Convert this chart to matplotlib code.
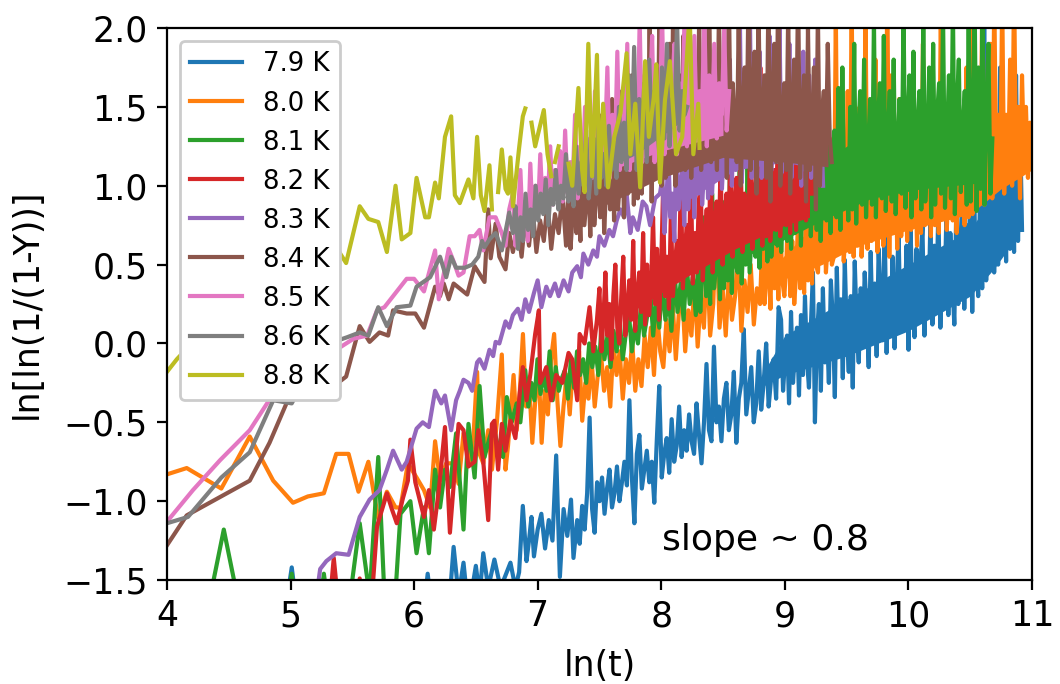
import numpy as np
import matplotlib
matplotlib.use("Agg")
import matplotlib.pyplot as plt

nan = np.nan

labels = ["7.9 K", "8.0 K", "8.1 K", "8.2 K", "8.3 K", "8.4 K", "8.5 K", "8.6 K", "8.8 K"]
colors = ["#1f77b4", "#ff7f0e", "#2ca02c", "#d62728", "#9467bd",
          "#8c564b", "#e377c2", "#7f7f7f", "#bcbd22"]

# ---- 7.9 K ------------------------------------------------------------
head_79 = [(4.90, -2.0), (5.01, -1.42), (5.10, -2.0), (6.05, -1.9), (6.11, -1.46), (6.16, -1.8),
           (6.28, -1.7), (6.32, -1.29), (6.36, -1.6), (6.40, -1.39), (6.44, -1.7), (6.50, -1.41),
           (6.53, -1.6), (6.56, -1.33), (6.60, -1.55), (6.65, -1.37), (6.70, -1.55), (6.74, -1.47),
           (6.78, -1.39), (6.82, -1.55), (6.85, -1.45), (6.88, -1.03), (6.91, -1.38), (6.93, -1.25),
           (6.95, -1.10), (6.97, -1.35), (7.00, -1.18), (7.03, -1.08), (7.06, -1.30), (7.09, -1.12),
           (7.12, -1.25), (7.15, -0.71), (7.18, -1.48), (7.21, -1.05), (7.24, -1.22), (7.27, -0.99),
           (7.29, -1.36)]
mid_79_span = (7.32, 8.95)
mid_79 = [-1.12, -1.27, -1.03, -1.18, -0.95, -0.47, -1.05, -1.20, -0.88, -1.00,
          -0.85, -1.08, -0.92, -0.80, -1.04, -0.95, -0.78, -1.00, -0.88, -0.75,
          -0.90, -0.36, -0.85, -1.14, -0.70, -0.58, -0.92, -0.80, -0.68, -0.88,
          -0.75, -1.01, -0.62, -0.27, -0.85, -0.70, -0.60, -0.82, -0.48, -0.75,
          -0.65, -0.40, -0.72, -0.55, -0.68, -0.45, -0.62, -0.70, -0.38, -0.58,
          -0.76, -0.50, -0.13, -0.55, -0.62, -0.02, -0.50, -0.40, -0.62, -0.35,
          -0.25, -0.55, -0.45, -0.18, -0.63, -0.35, -0.25, 0.09, -0.45, -0.30,
          -0.15, -0.50, -0.38, -0.05, -0.42, -0.25, 0.00, -0.40, -0.22, -0.10, -0.35, 0.23]
tail_79_span = (8.97, 10.92)
tail_79 = [0.15, -0.30, -0.10, 0.05, -0.38, 0.20, -0.25, -0.05, 0.10, -0.33, 0.18, -0.20,
           0.30, -0.10, -0.28, 0.12, 0.45, -0.50, 0.05, 0.25, -0.30, 0.35, -0.12, 0.10,
           -0.25, 0.40, 0.15, -0.34, 0.48, -0.05, 0.28, -0.22, 0.53, 0.05, -0.18, 0.30,
           -0.28, 0.52, 0.10, -0.12, 0.35, -0.02, 0.45, 0.20, -0.15, 0.58, 0.05, 0.38,
           -0.08, 0.60, 0.25, 0.02, 0.78, -0.06, 0.40, 0.10, 0.55, -0.03, 0.35, 0.70,
           0.08, 0.45, 0.15, 0.62, -0.04, 0.72, 0.30, 0.04, 0.60, 0.18, 0.50, 0.74,
           0.05, 0.40, 0.20, 0.78, 0.12, 0.62, 0.30, 0.85, 0.10, 0.58, 0.25, 0.80,
           0.18, 0.70, 0.40, 0.12, 0.87, 0.25, 0.60, 0.92, 0.22, 0.75, 0.35, 0.98,
           0.20, 0.85, 0.50, 0.30, 1.00, 0.35, 2.05, 0.40, 1.10, 0.60, 1.60, 0.45,
           1.25, 0.50, 1.75, 0.70, 1.10, 0.52, 1.45, 0.60, 1.30, 0.58, 1.70, 0.65,
           1.40, 0.72]
core_79_x = [8.8, 9.0, 9.5, 10.0, 10.5, 10.7, 10.9]
core_79_lo = [-0.28, -0.20, -0.08, 0.08, 0.30, 0.48, 0.70]
core_79_hi = [-0.22, 0.05, 0.28, 0.50, 0.72, 0.95, 1.20]

# ---- 8.0 K ------------------------------------------------------------
head_80 = [(4.00, -0.83), (4.16, -0.79), (4.44, -0.92), (4.67, -0.59), (4.86, -0.87), (5.02, -1.01),
           (5.14, -0.97), (5.27, -0.95), (5.37, -0.70), (5.47, -0.70), (5.55, -0.94), (5.63, -0.75),
           (5.71, -1.11), (5.78, -0.94), (5.85, -1.04), (5.89, -1.04), (5.95, -0.76), (6.02, -0.85),
           (6.08, -0.93), (6.13, -1.04), (6.17, -0.62), (6.21, -0.87), (6.26, -0.76), (6.32, -0.76),
           (6.36, -0.89), (6.40, -0.57), (6.45, -0.76), (6.48, -0.60), (6.51, -0.18), (6.53, -0.70),
           (6.56, -0.76), (6.60, -0.55), (6.63, -0.80), (6.67, -0.50), (6.71, -0.07), (6.74, -0.80),
           (6.76, -0.65)]
mid_80_span = (6.78, 8.80)
mid_80 = [-0.45, -0.20, -0.55, -0.30, 0.06, -0.40, -0.25, -0.63, -0.35,
          -0.15, -0.63, -0.30, -0.45, -0.10, 0.06, -0.35, -0.65, -0.40, -0.20,
          -0.45, -0.15, -0.30, -0.05, -0.49, -0.25, -0.35, -0.10, -0.40, -0.20,
          -0.06, -0.30, -0.15, -0.40, 0.00, -0.20, -0.05, -0.35, -0.10, -0.25,
          0.02, -0.30, -0.10, -0.27, 0.05, -0.15, 0.10, -0.20, 0.19, -0.05,
          -0.15, 0.15, -0.05, 0.25, -0.10, 0.20, 0.35, -0.05, 0.21, 0.05,
          0.40, -0.02, 0.30, 0.10, 0.55, 0.05, 0.25, 0.84, 0.10, 0.35,
          0.05, 0.45, 0.15, 0.30, 0.60, 0.08, 0.40, 0.20, 0.50, 0.12, 0.35, 0.25]
tail_80_span = (8.82, 11.0)
tail_80 = [0.70, 0.25, 0.45, 0.55, 0.22, 0.85, 0.35, 0.60, 0.28, 0.75, 0.40, 0.30,
           0.50, 0.90, 0.30, 0.65, 0.25, 0.45, 0.80, 0.35, 0.60, 0.32, 0.95, 0.40,
           0.70, 0.38, 1.10, 0.50, 0.45, 0.85, 0.55, 1.00, 0.45, 0.65, 1.30, 0.50,
           0.55, 2.10, 0.60, 0.90, 1.20, 0.52, 0.75, 1.60, 0.58, 2.20, 0.55, 1.00,
           0.62, 1.50, 0.55, 0.80, 2.10, 0.60, 1.25, 0.65, 0.95, 1.80, 0.58, 1.10,
           1.40, 0.62, 0.85, 2.25, 0.55, 1.70, 0.70, 1.20, 0.60, 1.55, 0.68, 1.05,
           1.30, 0.65, 1.60, 0.72, 0.95, 1.20, 0.62, 1.50, 0.70, 1.90, 0.75, 1.15,
           1.25, 0.68, 1.65, 0.75, 1.10, 0.70, 2.10, 0.80, 1.30, 0.72, 1.00, 1.45,
           0.78, 1.20, 0.70, 1.60, 0.85, 1.35, 0.75, 1.75, 0.80, 2.15, 0.82, 1.10,
           0.90, 1.60, 0.95, 2.30, 0.88, 1.40, 1.00, 1.90, 0.92, 2.20, 1.05, 1.45,
           1.00, 2.20, 0.95, 1.45, 1.10, 1.80, 1.00, 2.30, 1.05, 1.50, 0.92, 1.70,
           1.20, 1.50, 1.05, 1.40, 1.20]
core_80_x = [8.9, 9.3, 9.6, 10.0, 10.5, 10.75, 11.0]
core_80_lo = [0.38, 0.50, 0.62, 0.72, 0.82, 0.98, 1.10]
core_80_hi = [0.48, 0.80, 1.00, 1.10, 1.20, 1.40, 1.40]

# ---- 8.1 K ------------------------------------------------------------
head_81 = [(4.30, -1.8), (4.46, -1.18), (4.62, -1.8), (4.95, -1.8), (5.01, -1.46), (5.06, -1.8),
           (5.20, -1.9), (5.27, -1.46), (5.31, -1.7), (5.45, -1.8), (5.56, -1.14), (5.64, -1.6),
           (5.71, -0.72), (5.76, -1.6), (5.84, -1.7), (5.89, -1.08), (5.97, -1.00), (6.02, -1.33),
           (6.08, -1.04), (6.12, -1.33), (6.17, -0.80), (6.21, -1.04), (6.25, -0.80), (6.29, -0.91),
           (6.34, -0.57), (6.40, -1.18), (6.44, -0.51), (6.49, -0.85), (6.53, -0.27), (6.57, -0.72),
           (6.61, -0.60), (6.64, -0.53), (6.68, -0.65), (6.72, -0.72), (6.75, -0.34), (6.79, -0.50),
           (6.83, -0.38), (6.86, -0.50)]
mid_81_span = (6.90, 8.28)
mid_81 = [-0.17, -0.40, -0.25, -0.36, -0.10, -0.32, -0.20, -0.30, -0.05, -0.36,
          -0.15, -0.30, -0.22, -0.17, -0.35, -0.10, -0.28, -0.05, -0.20, -0.10,
          -0.25, 0.00, -0.15, -0.02, -0.20, 0.10, -0.10, 0.05, -0.15, 0.08,
          -0.05, 0.15, -0.10, 0.06, 0.20, -0.05, 0.12, 0.00, 0.25, 0.05,
          0.17, 0.35, 0.05, 0.28, 0.10, 0.40, 0.15, 0.30, 0.08, 0.45,
          0.20, 0.38, 0.15, 0.50, 0.25, 0.42, 0.18]
tail_81_span = (8.30, 10.68)
tail_81 = [0.55, 0.20, 0.45, 0.80, 0.30, 0.65, 0.25, 0.95, 0.35, 0.50, 0.70, 0.28,
           0.90, 0.35, 0.60, 0.40, 1.05, 0.32, 0.85, 0.50, 0.45, 1.10, 0.38, 0.75,
           0.50, 1.15, 0.45, 0.70, 0.95, 0.55, 1.20, 0.48, 0.80, 0.60, 1.00, 0.52,
           1.25, 0.55, 0.80, 1.00, 0.62, 1.30, 0.58, 0.90, 1.10, 0.65, 1.35, 0.60,
           1.20, 0.70, 0.95, 1.45, 0.62, 1.05, 1.30, 0.75, 1.50, 0.68, 1.00, 1.25,
           0.72, 1.45, 0.65, 1.15, 1.30, 0.78, 1.55, 0.70, 1.10, 1.35, 0.80, 1.62,
           0.72, 1.75, 0.90, 1.20, 0.78, 1.50, 0.85, 1.90, 0.76, 1.30, 1.60, 0.88,
           1.80, 0.80, 1.20, 1.55, 0.88, 2.05, 0.80, 1.40, 1.65, 0.92, 1.95, 0.84,
           1.30, 1.60, 0.90, 1.80, 0.82, 1.25, 1.55, 0.95, 2.10, 0.86, 1.40, 1.70,
           0.80, 1.85, 0.92, 1.35, 1.60, 0.85, 2.05, 0.90, 1.20, 1.75, 0.80, 1.90,
           0.88, 1.45, 1.65, 0.95, 2.10, 0.86, 1.30, 1.70, 0.92, 2.15, 0.82, 1.50,
           1.80, 0.96, 1.35, 1.60, 0.88, 2.05, 0.90, 1.25, 2.20, 0.84, 1.75, 0.98,
           2.05, 0.88, 1.45, 1.90, 0.95, 1.30]
core_81_x = [8.5, 8.9, 9.3, 9.7, 10.1, 10.6]
core_81_lo = [0.50, 0.62, 0.78, 0.92, 0.98, 1.02]
core_81_hi = [0.58, 0.92, 1.15, 1.35, 1.42, 1.45]

# ---- 8.2 K ------------------------------------------------------------
head_82 = [(5.30, -1.8), (5.35, -1.36), (5.38, -1.6), (5.41, -1.9), (5.53, -1.8), (5.56, -1.49),
           (5.59, -1.8), (5.66, -1.6), (5.70, -1.16), (5.78, -0.95), (5.82, -1.05), (5.86, -1.14),
           (5.91, -0.98), (5.95, -0.87), (5.97, -0.61), (6.01, -0.88), (6.08, -1.10), (6.12, -0.93),
           (6.16, -1.18), (6.20, -0.93), (6.25, -0.53), (6.29, -1.20), (6.33, -0.80), (6.36, -0.51),
           (6.40, -0.55), (6.44, -0.78), (6.49, -0.75), (6.52, -0.55), (6.56, -0.75), (6.60, -1.12),
           (6.63, -0.51), (6.65, -0.49), (6.68, -0.80), (6.71, -0.51), (6.74, -0.68), (6.78, -0.49),
           (6.82, -0.60), (6.86, -0.28), (6.88, -0.15), (6.91, -0.36), (6.94, -0.20), (6.98, 0.06),
           (7.01, 0.21), (7.02, -0.25), (7.07, -0.15), (7.11, -0.36), (7.15, -0.20), (7.20, -0.25),
           (7.25, -0.06), (7.28, -0.10), (7.32, -0.36), (7.34, 0.06), (7.38, 0.00), (7.42, 0.23),
           (7.45, -0.05), (7.48, 0.15)]
tail_82_span = (7.50, 9.22)
tail_82 = [0.35, -0.05, 0.15, 0.45, 0.05, 0.25, -0.10, 0.30, 0.50, 0.10, 0.00, 0.30,
           0.55, 0.05, 0.20, 0.40, 0.15, 0.65, 0.08, 0.30, 0.45, 0.20, 0.70, 0.12,
           0.50, 0.18, 0.35, 0.80, 0.25, 0.60, 0.15, 0.45, 0.95, 0.30, 0.55, 0.22,
           0.85, 0.30, 0.50, 0.65, 0.40, 1.05, 0.35, 0.60, 0.75, 0.45, 1.10, 0.38,
           0.70, 0.45, 0.90, 1.00, 0.40, 0.65, 0.85, 0.52, 1.20, 0.45, 0.75, 0.90,
           0.55, 1.15, 0.50, 0.80, 0.95, 0.60, 1.30, 0.55, 0.85, 1.05, 0.62, 1.25,
           0.58, 0.95, 0.75, 0.65, 1.40, 0.60, 0.90, 1.10, 0.70, 1.75, 0.62, 1.20,
           0.68, 1.45, 0.65, 0.95, 1.10, 0.72, 1.55, 0.68, 1.00, 1.25, 0.75, 1.60,
           0.70, 1.30, 0.95, 0.72, 1.50, 0.80, 1.15, 1.35, 0.78, 1.20, 1.45, 0.95]
core_82_x = [7.8, 8.2, 8.6, 9.0, 9.2]
core_82_lo = [0.22, 0.42, 0.60, 0.75, 0.80]
core_82_hi = [0.30, 0.62, 0.88, 1.02, 1.08]

# ---- 8.3 K ------------------------------------------------------------
head_83 = [(5.21, -1.6), (5.24, -1.43), (5.29, -1.38), (5.37, -1.33), (5.47, -1.34), (5.56, -1.10),
           (5.64, -0.99), (5.72, -0.93), (5.78, -0.80), (5.83, -0.68), (5.90, -0.80), (5.94, -0.75),
           (6.02, -0.54), (6.07, -0.50), (6.12, -0.53), (6.17, -0.30), (6.22, -0.38), (6.25, -0.33),
           (6.30, -0.55), (6.34, -0.36), (6.37, -0.30), (6.40, -0.23), (6.44, -0.25), (6.47, -0.30),
           (6.51, -0.12), (6.53, -0.10), (6.57, -0.16), (6.61, -0.04), (6.64, -0.08), (6.66, 0.01),
           (6.69, 0.00), (6.74, 0.14), (6.77, 0.10), (6.80, 0.18), (6.84, 0.22), (6.87, 0.15),
           (6.90, 0.28), (6.93, 0.20), (6.97, 0.32), (7.00, 0.40), (7.03, 0.23), (7.07, 0.36),
           (7.10, 0.30), (7.14, 0.38), (7.17, 0.30), (7.21, 0.40), (7.25, 0.33), (7.28, 0.45),
           (7.32, 0.49), (7.35, 0.42), (7.37, 0.57), (7.41, 0.50), (7.45, 0.59), (7.48, 0.55),
           (7.50, 0.68), (7.54, 0.62), (7.58, 0.72), (7.61, 0.68), (7.64, 0.78), (7.67, 0.85),
           (7.70, 0.80), (7.72, 0.95), (7.75, 0.70), (7.77, 0.80), (7.81, 0.72), (7.85, 0.90),
           (7.88, 0.87), (7.91, 0.75), (7.95, 0.92), (7.99, 0.95)]
tail_83_span = (8.01, 9.31)
tail_83 = [1.05, 0.70, 0.90, 1.20, 0.80, 0.95, 0.65, 1.30, 0.85, 1.00, 1.10, 0.75,
           1.25, 0.85, 1.05, 1.40, 0.80, 1.15, 0.95, 1.50, 0.88, 1.10, 1.30, 0.92,
           1.55, 0.95, 1.20, 1.35, 1.05, 1.70, 0.98, 1.25, 1.45, 1.10, 1.80, 1.00,
           1.50, 1.10, 1.30, 2.10, 1.02, 1.40, 1.65, 1.15, 2.20, 1.05, 1.35, 1.60,
           1.20, 1.85, 1.05, 1.35, 1.55, 1.15, 1.95, 1.10, 1.40, 1.70, 1.20, 2.05,
           1.08, 1.35, 1.60, 1.15, 1.90, 1.05, 1.30, 1.75, 1.20, 1.55, 1.00, 1.85,
           1.10, 1.40, 1.70, 1.05, 1.25, 1.80, 1.15, 1.50, 1.40, 1.00]
core_83_x = [8.2, 8.6, 9.0, 9.3]
core_83_lo = [0.90, 1.10, 1.15, 1.10]
core_83_hi = [1.00, 1.35, 1.45, 1.35]

# ---- 8.4 K ------------------------------------------------------------
head_84 = [(4.00, -1.28), (4.16, -1.09), (4.67, -0.87), (4.83, -0.63), (5.00, -0.32), (5.13, -0.32),
           (5.35, -0.27), (5.45, -0.21), (5.56, 0.11), (5.64, 0.01), (5.72, 0.07), (5.79, 0.05),
           (5.83, 0.21), (5.94, 0.19), (6.01, 0.19), (6.08, 0.10), (6.17, 0.36), (6.21, 0.30),
           (6.24, 0.38), (6.28, 0.28), (6.32, 0.38), (6.43, 0.31), (6.49, 0.49), (6.57, 0.39),
           (6.60, 0.85), (6.62, 0.54), (6.66, 0.76), (6.69, 0.55), (6.74, 0.47), (6.77, 0.70),
           (6.80, 0.58), (6.84, 0.75), (6.87, 0.55), (6.90, 0.80), (6.93, 0.62), (6.96, 0.85),
           (6.99, 0.58), (7.02, 0.78), (7.05, 0.65), (7.08, 0.90), (7.11, 0.60), (7.14, 0.82),
           (7.17, 0.70), (7.20, 0.95), (7.23, 0.62)]
tail_84_span = (7.25, 9.38)
tail_84 = [1.00, 0.60, 0.80, 1.20, 0.70, 0.95, 0.65, 1.25, 0.75, 0.90, 1.05, 0.68,
           1.35, 0.75, 0.95, 1.10, 0.80, 1.45, 0.70, 1.00, 1.20, 0.85, 1.55, 0.78,
           1.20, 0.85, 1.05, 1.60, 0.80, 1.35, 0.95, 1.15, 1.70, 0.88, 1.40, 0.92,
           1.85, 0.95, 1.30, 1.50, 1.05, 2.10, 0.90, 1.65, 1.25, 1.10, 2.20, 1.00,
           1.60, 1.05, 1.35, 1.90, 1.15, 2.30, 1.00, 1.45, 1.70, 1.20, 1.95, 1.10,
           1.50, 2.20, 1.05, 1.75, 1.35, 1.20, 2.05, 1.10, 1.60, 1.85, 1.25, 2.30,
           1.15, 1.70, 1.45, 1.10, 2.10, 1.25, 1.55, 1.80, 1.05, 2.25, 1.20, 1.65,
           1.35, 1.15, 2.05, 1.00, 1.50, 1.75, 1.25, 2.30, 1.10, 1.60, 1.85, 0.95,
           2.15, 1.20, 1.45, 1.70, 1.05, 2.20, 0.90, 1.55, 1.90, 1.15, 2.35, 1.00,
           1.40, 1.65, 1.10, 2.10, 0.95, 1.50, 1.80, 1.20, 2.25, 1.05, 1.45, 1.70,
           0.90, 2.00, 1.10, 1.35, 1.75, 0.85, 2.10, 1.00, 1.45, 1.60, 1.15, 1.90,
           1.30, 1.15]
core_84_x = [7.5, 8.0, 8.5, 9.0, 9.35]
core_84_lo = [0.86, 1.05, 1.18, 1.15, 1.12]
core_84_hi = [0.94, 1.35, 1.48, 1.48, 1.38]

# ---- 8.5 K ------------------------------------------------------------
head_85 = [(4.00, -1.13), (4.21, -0.93), (4.43, -0.74), (4.67, -0.55), (4.86, -0.32), (5.00, -0.33),
           (5.10, -0.22), (5.25, -0.12), (5.41, -0.02), (5.51, 0.03), (5.62, 0.05), (5.70, 0.21),
           (5.76, 0.23), (5.83, 0.30), (5.94, 0.41), (6.00, 0.41), (6.08, 0.33), (6.17, 0.59),
           (6.20, 0.28), (6.28, 0.60), (6.32, 0.52), (6.36, 0.43), (6.40, 0.45), (6.45, 0.68),
           (6.49, 0.68), (6.53, 0.72), (6.56, 0.59), (6.61, 0.80), (6.66, 0.80), (6.71, 0.70),
           (6.74, 0.62), (6.77, 0.85)]
tail_85_span = (6.80, 8.55)
tail_85 = [0.95, 0.62, 0.80, 1.10, 0.70, 0.90, 0.65, 1.14, 0.75, 1.00,
           0.80, 1.20, 0.85, 1.05, 0.90, 1.25, 0.88, 1.10, 0.95, 1.22,
           0.90, 1.35, 0.95, 1.15, 1.00, 1.45, 0.92, 1.25, 1.05, 1.50,
           1.00, 1.30, 1.05, 1.60, 1.00, 1.40, 1.10, 1.25, 1.75, 1.05,
           1.45, 1.15, 1.85, 1.10, 1.55, 1.20, 1.90, 1.10, 1.40, 1.60,
           1.25, 2.05, 1.15, 1.70, 1.20, 1.50, 1.95, 1.15, 1.55, 1.30,
           2.10, 1.20, 1.75, 1.25, 1.60, 1.90, 1.20, 1.65, 1.30, 2.05,
           1.25, 1.80, 1.35, 1.95, 1.30, 1.60, 1.40, 2.10, 1.25, 1.70,
           1.35, 1.90, 1.30, 1.65, 1.45, 2.00, 1.35, 1.60]
core_85_x = [7.2, 7.6, 8.0, 8.5]
core_85_lo = [1.00, 1.10, 1.22, 1.32]
core_85_hi = [1.06, 1.28, 1.42, 1.48]

# ---- 8.6 K ------------------------------------------------------------
head_86 = [(4.00, -1.14), (4.17, -1.10), (4.44, -0.85), (4.67, -0.69), (4.86, -0.36), (5.01, -0.38),
           (5.05, -0.32), (5.20, -0.10), (5.35, 0.01), (5.46, 0.04), (5.56, 0.07), (5.63, 0.05),
           (5.71, 0.23), (5.78, 0.11), (5.86, 0.23), (5.97, 0.24), (6.02, 0.36), (6.13, 0.42),
           (6.21, 0.55), (6.26, 0.42), (6.30, 0.55), (6.34, 0.48), (6.41, 0.48), (6.47, 0.50),
           (6.52, 0.55), (6.55, 0.65), (6.57, 0.61), (6.61, 0.66), (6.66, 0.70), (6.71, 0.59),
           (6.77, 0.83)]
tail_86_span = (6.80, 8.21)
tail_86 = [0.70, 0.87, 0.60, 0.80, 0.65, 0.95, 0.72, 0.85, 0.68, 1.00,
           0.78, 0.95, 0.82, 1.04, 0.75, 0.98, 0.88, 1.10, 0.85, 1.00,
           0.92, 1.20, 0.90, 1.05, 0.87, 1.25, 0.95, 1.15, 1.00, 1.35,
           0.92, 1.10, 1.30, 0.95, 1.42, 1.05, 1.20, 1.00, 1.38, 1.10,
           1.25, 1.05, 1.50, 1.15, 1.40, 1.10, 1.70, 1.20, 1.88, 1.10,
           1.55, 1.25, 1.65, 1.15, 1.80, 1.30, 1.60, 1.40, 1.20, 1.75,
           1.30, 1.90, 1.25, 1.55, 1.40, 2.05, 1.35, 1.60, 1.45, 1.50]
core_86_x = [7.4, 7.8, 8.15]
core_86_lo = [1.05, 1.20, 1.40]
core_86_hi = [1.12, 1.42, 1.55]

# ---- 8.8 K ------------------------------------------------------------
head_88 = [(4.00, -0.18), (4.08, -0.10), (4.20, 0.00), (4.35, 0.05), (4.50, 0.15), (4.65, 0.22),
           (4.80, 0.30), (4.95, 0.35), (5.10, 0.48), (5.25, 0.55), (5.37, 0.61), (5.45, 0.51),
           (5.56, 0.87), (5.63, 0.79), (5.71, 0.77), (5.78, 0.58), (5.85, 1.00), (5.90, 0.66),
           (5.97, 0.70), (6.02, 1.05), (6.09, 0.80), (6.12, 0.80), (6.17, 1.02), (6.20, 0.92),
           (6.25, 1.31), (6.30, 1.44), (6.33, 0.94), (6.37, 0.89), (6.44, 1.04), (6.48, 0.92),
           (6.51, 1.31), (6.54, 0.94), (6.57, 0.84), (6.61, 1.13), (6.63, 0.85), (6.65, nan),
           (6.68, 0.96), (6.71, 1.23), (6.74, 0.98), (6.76, 0.95), (6.78, 1.18), (6.80, 0.87),
           (6.85, 1.24), (6.88, 1.44), (6.90, 1.49), (6.92, nan), (6.95, 1.40), (6.98, 1.25),
           (7.01, 1.35), (7.05, 1.48), (7.08, 1.20), (7.11, 1.06), (7.12, nan), (7.14, 1.15),
           (7.17, 1.25), (7.20, nan), (7.25, 1.14), (7.28, 1.00), (7.33, 1.62), (7.36, 1.10),
           (7.38, 0.96), (7.41, 1.90), (7.44, 1.06), (7.48, 1.83), (7.50, 0.99), (7.53, 1.52),
           (7.57, 0.99), (7.62, 1.31), (7.67, 1.46), (7.72, 1.84), (7.75, 1.20), (7.79, 1.52),
           (7.83, 0.99), (7.87, 1.79), (7.90, 1.31), (7.94, 1.56), (7.96, 1.77), (7.99, 1.02),
           (8.03, 1.54), (8.07, 1.79), (8.12, 1.20), (8.17, 1.31), (8.23, 2.10), (8.26, 1.20),
           (8.30, 1.52), (8.31, 1.24)]


def build(head, *segments):
    """Join explicit (ln t, value) pairs with evenly sampled dense stretches."""
    pts = np.array(head, dtype=float)
    xs, ys = [pts[:, 0]], [pts[:, 1]]
    for span, vals in segments:
        xs.append(np.linspace(span[0], span[1], len(vals)))
        ys.append(np.asarray(vals, dtype=float))
    return np.concatenate(xs), np.concatenate(ys)


series = [
    build(head_79, (mid_79_span, mid_79), (tail_79_span, tail_79)),
    build(head_80, (mid_80_span, mid_80), (tail_80_span, tail_80)),
    build(head_81, (mid_81_span, mid_81), (tail_81_span, tail_81)),
    build(head_82, (tail_82_span, tail_82)),
    build(head_83, (tail_83_span, tail_83)),
    build(head_84, (tail_84_span, tail_84)),
    build(head_85, (tail_85_span, tail_85)),
    build(head_86, (tail_86_span, tail_86)),
    build(head_88),
]

# solid middle of each densely sampled stretch (where the trace overplots itself)
cores = [
    (core_79_x, core_79_lo, core_79_hi),
    (core_80_x, core_80_lo, core_80_hi),
    (core_81_x, core_81_lo, core_81_hi),
    (core_82_x, core_82_lo, core_82_hi),
    (core_83_x, core_83_lo, core_83_hi),
    (core_84_x, core_84_lo, core_84_hi),
    (core_85_x, core_85_lo, core_85_hi),
    (core_86_x, core_86_lo, core_86_hi),
    None,
]

plt.rcParams.update({
    "font.family": "DejaVu Sans",
    "font.size": 25,
    "axes.linewidth": 1.6,
    "xtick.major.size": 7,
    "ytick.major.size": 7,
    "xtick.major.width": 1.6,
    "ytick.major.width": 1.6,
    "xtick.major.pad": 7,
    "ytick.major.pad": 7,
    "lines.linewidth": 3.0,
})

fig = plt.figure(figsize=(10.6, 6.84), dpi=100)
ax = fig.add_axes([0.1575, 0.152, 0.816, 0.807])

for (x, y), core, lab, col in zip(series, cores, labels, colors):
    ax.plot(x, y, color=col, lw=3.0, label=lab, zorder=2)
    if core is not None:
        cx, lo, hi = core
        ax.fill_between(cx, lo, hi, color=col, lw=0, zorder=2)

ax.set_xlim(4, 11)
ax.set_ylim(-1.5, 2.0)
ax.set_xticks(range(4, 12))
ax.set_yticks(np.arange(-1.5, 2.01, 0.5))
ax.set_xlabel("ln(t)", labelpad=11)
ax.set_ylabel("ln[ln(1/(1-Y))]", labelpad=14)

ax.text(8.01, -1.31, "slope ~ 0.8", fontsize=26, ha="left", va="baseline")

leg = ax.legend(loc="upper left", fontsize=18.75, framealpha=1.0)
leg.get_frame().set_linewidth(2.0)

fig.savefig("out.png", dpi=100)
